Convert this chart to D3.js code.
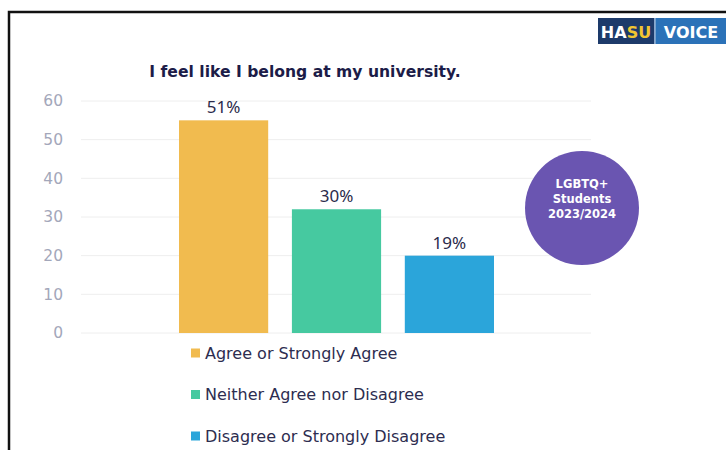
<!DOCTYPE html>
<html>
<head>
<meta charset="utf-8">
<script src="https://cdn.jsdelivr.net/npm/d3@7"></script>
<style>
body { margin: 0; background: #fff; }
text { font-family: "DejaVu Sans", "Noto Sans", sans-serif; }
</style>
</head>
<body>
<script>
var w = 726;
var h = 450;

// data
var categories = ["Agree or Strongly Agree", "Neither Agree nor Disagree", "Disagree or Strongly Disagree"];
var barValues = [55, 32, 20];
var barLabels = ["51%", "30%", "19%"];
var colors = ["#f1bb4f", "#46c9a0", "#2ba5da"];
var yTicks = [0, 10, 20, 30, 40, 50, 60];

var svg = d3.select("body")
    .append("svg")
    .attr("width", w)
    .attr("height", h);

// frame
svg.append("path")
    .attr("d", "M9,450 V12 H726")
    .attr("fill", "none")
    .attr("stroke", "#111")
    .attr("stroke-width", 2.5);

var x = d3.scaleBand()
    .domain(categories)
    .range([179, 494])
    .paddingInner(0.21)
    .paddingOuter(0);

var y = d3.scaleLinear()
    .domain([0, 60])
    .range([333, 101]);

// gridlines
svg.append("g")
    .selectAll("line")
    .data(yTicks)
    .enter().append("line")
    .attr("x1", 81)
    .attr("x2", 591)
    .attr("y1", function(d) { return y(d); })
    .attr("y2", function(d) { return y(d); })
    .attr("stroke", "#eeeeee")
    .attr("stroke-width", 1);

// y labels
svg.append("g")
    .selectAll("text")
    .data(yTicks)
    .enter().append("text")
    .attr("x", 63)
    .attr("y", function(d) { return y(d); })
    .attr("dy", "0.35em")
    .attr("text-anchor", "end")
    .attr("fill", "#a3a7ba")
    .attr("font-size", 15.5)
    .text(function(d) { return d; });

// bars
svg.append("g")
    .selectAll("rect")
    .data(barValues)
    .enter().append("rect")
    .attr("x", function(d, i) { return x(categories[i]); })
    .attr("y", function(d) { return y(d); })
    .attr("width", x.bandwidth())
    .attr("height", function(d) { return y(0) - y(d); })
    .attr("fill", function(d, i) { return colors[i]; });

svg.append("g")
    .selectAll("text")
    .data(barValues)
    .enter().append("text")
    .attr("x", function(d, i) { return x(categories[i]) + x.bandwidth() / 2; })
    .attr("y", function(d) { return y(d) - 7; })
    .attr("text-anchor", "middle")
    .attr("fill", "#2b2b4b")
    .style("font-family", "'Noto Sans', sans-serif")
    .attr("font-size", 17)
    .text(function(d, i) { return barLabels[i]; });

// title
svg.append("text")
    .attr("x", 305)
    .attr("y", 77)
    .attr("text-anchor", "middle")
    .attr("fill", "#1c1c48")
    .attr("font-size", 15.6)
    .attr("font-weight", "bold")
    .text("I feel like I belong at my university.");

// legend
var legend = svg.append("g")
    .selectAll("g")
    .data(categories)
    .enter().append("g")
    .attr("transform", function(d, i) { return "translate(191," + (353 + i * 41.5) + ")"; });

legend.append("rect")
    .attr("x", 0)
    .attr("y", -4.5)
    .attr("width", 9)
    .attr("height", 9)
    .attr("fill", function(d, i) { return colors[i]; });

legend.append("text")
    .attr("x", 14)
    .attr("dy", "0.35em")
    .attr("fill", "#2d2d50")
    .attr("font-size", 16)
    .text(function(d) { return d; });

// badge
var badge = svg.append("g").attr("transform", "translate(582,208)");
badge.append("circle")
    .attr("r", 57)
    .attr("fill", "#6a55b1");
badge.selectAll("text")
    .data(["LGBTQ+", "Students", "2023/2024"])
    .enter().append("text")
    .attr("y", function(d, i) { return -24 + i * 15; })
    .attr("dy", "0.35em")
    .attr("text-anchor", "middle")
    .attr("fill", "#fff")
    .attr("font-size", 11.5)
    .attr("font-weight", "bold")
    .text(function(d) { return d; });

// logo
var logo = svg.append("g").attr("transform", "translate(598,18)");
logo.append("rect")
    .attr("width", 56).attr("height", 26)
    .attr("fill", "#1d3a6a");
logo.append("rect")
    .attr("x", 56).attr("width", 1.5).attr("height", 26)
    .attr("fill", "#8aa7cc");
logo.append("rect")
    .attr("x", 57.5).attr("width", 72).attr("height", 26)
    .attr("fill", "#2b72b8");
var hasu = logo.append("text")
    .attr("x", 28).attr("y", 20)
    .attr("text-anchor", "middle")
    .attr("font-size", 16)
    .attr("font-weight", "bold")
    .attr("fill", "#fff");
hasu.append("tspan").text("HA");
hasu.append("tspan").attr("fill", "#f2c531").text("SU");
logo.append("text")
    .attr("x", 93).attr("y", 20)
    .attr("text-anchor", "middle")
    .attr("font-size", 16)
    .attr("font-weight", "bold")
    .attr("fill", "#fff")
    .text("VOICE");
</script>
</body>
</html>
